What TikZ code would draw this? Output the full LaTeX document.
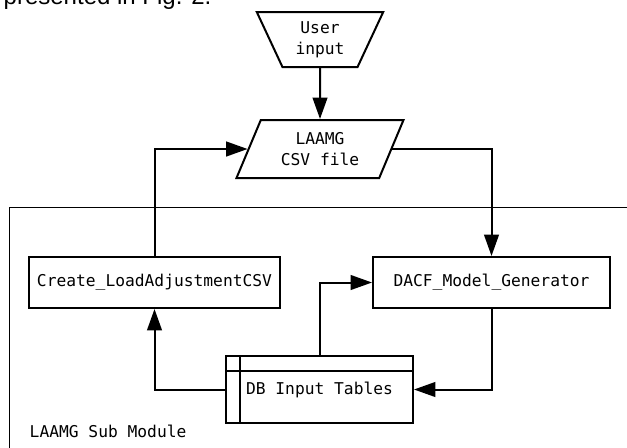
\documentclass[tikz,border=0pt]{standalone}
\usepackage{fontspec}
\setmainfont{Liberation Sans}
\setmonofont{DejaVu Sans Mono}
\usetikzlibrary{shapes.geometric,arrows.meta}

\begin{document}
\begin{tikzpicture}[
  x=0.75pt, y=-0.75pt,
  mono/.style={font=\ttfamily\fontsize{12.2}{15.5}\selectfont},
  procbox/.style={draw, mono, line width=1.5pt, inner sep=0pt, minimum height=38.25pt},
  manualin/.style={draw, mono, line width=1.5pt, inner sep=0pt, align=center, trapezium,
    trapezium left angle=65, trapezium right angle=65, shape border rotate=180,
    trapezium stretches=true, minimum width=95.25pt, minimum height=41.25pt},
  datafile/.style={draw, mono, line width=1.5pt, inner sep=0pt, align=center, trapezium,
    trapezium left angle=64, trapezium right angle=116,
    trapezium stretches=true, minimum width=126pt, minimum height=43.5pt},
  flow/.style={line width=1.5pt, -{Triangle[length=16pt,width=11pt]}}
]
\path[use as bounding box, clip] (0,0) rectangle (627,447);

% Cropped caption line from the page
\node[anchor=base west, font=\fontsize{18}{20}\selectfont] (caption) at (-1,4.5) {presented in Fig. 2.};

% Sub module frame (runs off the right and bottom edges)
\draw[line width=0.75pt] (9,207) rectangle (660,480);
\node[mono, anchor=west] (sublabel) at (25,431) {LAAMG Sub Module};

% Inputs
\node[manualin] (user) at (320,39.5) {User\\input};
\node[datafile] (csv) at (320,149) {LAAMG\\CSV file};

% Processes
\node[procbox, minimum width=188.25pt] (create) at (154.5,282.5) {Create\_LoadAdjustmentCSV};
\node[procbox, minimum width=177.75pt] (dacf) at (491.5,282.5) {DACF\_Model\_Generator};

% Internal storage
\node[procbox, minimum width=140.25pt, minimum height=50.25pt] (db) at (319.5,389.5) {DB Input Tables};
\draw[line width=1.5pt] ([yshift=-12pt]db.north west) -- ([yshift=-12pt]db.north east);
\draw[line width=1.5pt] ([xshift=11.25pt]db.north west) -- ([xshift=11.25pt]db.south west);

% Connectors
\draw[flow] (user.south) -- (csv.north);
\draw[flow] (csv.east) -| (dacf.north);
\draw[flow] (create.north) |- (csv.west);
\draw[flow] (dacf.south) |- (db.east);
\draw[flow] (db.west) -| (create.south);
\draw[flow] (db.north) |- (dacf.west);

\end{tikzpicture}
\end{document}
